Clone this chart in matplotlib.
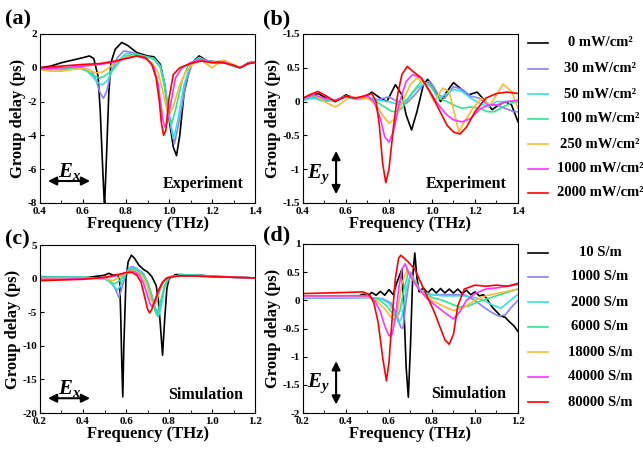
# -*- coding:utf-8 -*-
import matplotlib
matplotlib.use('Agg')
import matplotlib.pyplot as plt
from matplotlib.lines import Line2D

plt.rcParams['font.family'] = 'Liberation Serif'
plt.rcParams['font.weight'] = 'bold'
plt.rcParams['axes.unicode_minus'] = False
plt.rcParams['mathtext.fontset'] = 'custom'
plt.rcParams['mathtext.it'] = 'Liberation Serif:italic:bold'
plt.rcParams['mathtext.rm'] = 'Liberation Serif:bold'

colors = ['#000000', '#8a80ff', '#33e0e6', '#2ee68c', '#ffb833', '#ff33ff', '#ff0000']
power_labels = ['0 mW/cm²', '30 mW/cm²', '50 mW/cm²', '100 mW/cm²',
                '250 mW/cm²', '1000 mW/cm²', '2000 mW/cm²']
sigma_labels = ['10 S/m', '1000 S/m', '2000 S/m', '6000 S/m',
                '18000 S/m', '40000 S/m', '80000 S/m']

# (a) experiment, Ex polarisation
a_x0 = [0.40, 0.45, 0.50, 0.55, 0.60, 0.63, 0.65, 0.67, 0.68, 0.69, 0.70, 0.71, 0.72, 0.73, 0.75, 0.78, 0.81, 0.85,
        0.90, 0.93, 0.96, 0.98, 1.00, 1.02, 1.035, 1.05, 1.07, 1.10, 1.14, 1.18, 1.22, 1.26, 1.30, 1.33, 1.37, 1.40]
a_y0 = [0.0, 0.1, 0.3, 0.45, 0.6, 0.7, 0.55, -0.5, -2.5, -5.5, -8.3, -5.0, -1.5, 0.3, 1.1, 1.5, 1.3, 0.9,
        0.7, 0.65, 0.2, -1.0, -3.0, -4.7, -5.2, -4.0, -1.5, 0.2, 0.7, 0.4, 0.35, 0.4, 0.1, 0.0, 0.3, 0.35]
a_x1 = [0.40, 0.50, 0.60, 0.64, 0.66, 0.68, 0.695, 0.71, 0.73, 0.76, 0.79, 0.83, 0.88, 0.93, 0.96, 0.98, 1.00,
        1.025, 1.05, 1.08, 1.11, 1.14, 1.18, 1.22, 1.26, 1.30, 1.33, 1.37, 1.40]
a_y1 = [-0.1, -0.1, 0.0, -0.2, -0.7, -1.5, -1.8, -1.4, -0.3, 0.6, 1.0, 0.9, 0.7, 0.55, 0.1, -1.0, -2.8,
        -4.5, -3.0, -0.8, 0.3, 0.6, 0.4, 0.3, 0.3, 0.1, 0.0, 0.25, 0.35]
a_x2 = [0.40, 0.50, 0.58, 0.62, 0.65, 0.67, 0.69, 0.71, 0.74, 0.77, 0.80, 0.84, 0.88, 0.93, 0.96, 0.98, 1.00,
        1.02, 1.04, 1.07, 1.10, 1.14, 1.18, 1.22, 1.26, 1.30, 1.33, 1.37, 1.40]
a_y2 = [-0.05, -0.1, 0.0, -0.2, -0.6, -0.9, -1.0, -0.8, -0.1, 0.5, 0.85, 0.8, 0.7, 0.55, 0.1, -1.0, -2.8,
        -4.2, -3.2, -1.0, 0.2, 0.6, 0.4, 0.3, 0.3, 0.1, 0.0, 0.25, 0.35]
a_x3 = [0.40, 0.50, 0.58, 0.62, 0.65, 0.67, 0.68, 0.70, 0.74, 0.77, 0.80, 0.84, 0.88, 0.93, 0.96, 0.98, 1.00,
        1.012, 1.03, 1.06, 1.09, 1.14, 1.18, 1.22, 1.26, 1.30, 1.33, 1.37, 1.40]
a_y3 = [-0.05, -0.1, 0.0, -0.2, -0.45, -0.58, -0.6, -0.5, -0.1, 0.35, 0.7, 0.8, 0.7, 0.5, 0.0, -1.2, -2.8,
        -3.3, -2.5, -0.8, 0.2, 0.55, 0.4, 0.3, 0.3, 0.1, 0.0, 0.25, 0.35]
a_x4 = [0.40, 0.45, 0.50, 0.55, 0.60, 0.63, 0.66, 0.69, 0.72, 0.76, 0.80, 0.84, 0.88, 0.92, 0.95, 0.97, 0.99,
        1.00, 1.02, 1.05, 1.08, 1.12, 1.15, 1.20, 1.25, 1.30, 1.33, 1.37, 1.40]
a_y4 = [-0.1, -0.2, -0.2, -0.1, -0.05, -0.15, -0.3, -0.25, 0.0, 0.4, 0.6, 0.7, 0.6, 0.3, -0.3, -1.3, -2.5,
        -2.8, -2.3, -1.0, -0.2, 0.3, 0.45, 0.0, 0.45, 0.2, 0.0, 0.25, 0.35]
a_x5 = [0.40, 0.50, 0.60, 0.68, 0.75, 0.80, 0.85, 0.90, 0.93, 0.95, 0.96, 0.97, 0.98, 0.99, 1.01, 1.03, 1.06,
        1.10, 1.15, 1.20, 1.25, 1.30, 1.33, 1.37, 1.40]
a_y5 = [-0.05, 0.0, 0.1, 0.2, 0.35, 0.55, 0.7, 0.5, 0.0, -1.0, -2.0, -3.0, -3.5, -3.3, -2.0, -0.6, 0.0,
        0.3, 0.5, 0.3, 0.35, 0.15, 0.0, 0.25, 0.35]
a_x6 = [0.40, 0.50, 0.60, 0.68, 0.75, 0.80, 0.85, 0.89, 0.92, 0.94, 0.955, 0.965, 0.975, 0.985, 1.00, 1.02, 1.05,
        1.10, 1.15, 1.20, 1.25, 1.30, 1.33, 1.37, 1.40]
a_y6 = [0.0, 0.1, 0.2, 0.25, 0.4, 0.55, 0.7, 0.6, 0.2, -0.6, -2.0, -3.3, -4.0, -3.7, -1.8, -0.4, 0.0,
        0.25, 0.4, 0.3, 0.3, 0.15, 0.0, 0.25, 0.3]

# (b) experiment, Ey polarisation
b_x0 = [0.40, 0.43, 0.47, 0.51, 0.55, 0.60, 0.64, 0.68, 0.72, 0.76, 0.79, 0.83, 0.86, 0.88, 0.905, 0.93, 0.96,
        0.98, 1.01, 1.04, 1.07, 1.10, 1.13, 1.17, 1.21, 1.25, 1.28, 1.31, 1.34, 1.37, 1.40]
b_y0 = [0.05, 0.08, 0.12, 0.05, 0.0, 0.1, 0.05, 0.05, 0.14, 0.05, 0.0, 0.25, 0.1, -0.2, -0.42, -0.15, 0.25,
        0.33, 0.2, 0.0, 0.15, 0.28, 0.2, 0.1, 0.14, 0.0, -0.12, -0.05, 0.0, -0.05, -0.3]
b_x1 = [0.40, 0.45, 0.50, 0.55, 0.60, 0.65, 0.70, 0.75, 0.80, 0.84, 0.88, 0.92, 0.96, 0.99, 1.03, 1.06, 1.10,
        1.14, 1.18, 1.22, 1.26, 1.30, 1.34, 1.38, 1.40]
b_y1 = [0.03, 0.06, 0.02, 0.02, 0.07, 0.04, 0.06, 0.03, 0.07, 0.0, -0.03, 0.1, 0.25, 0.3, 0.1, 0.05, 0.22,
        0.18, 0.08, 0.05, -0.05, -0.05, -0.1, -0.15, -0.15]
b_x2 = [0.40, 0.45, 0.50, 0.55, 0.60, 0.65, 0.70, 0.75, 0.80, 0.85, 0.89, 0.93, 0.97, 1.00, 1.03, 1.06, 1.10,
        1.14, 1.18, 1.22, 1.26, 1.30, 1.35, 1.40]
b_y2 = [0.02, 0.05, 0.0, 0.02, 0.06, 0.03, 0.05, 0.02, 0.0, -0.05, 0.05, 0.2, 0.28, 0.2, 0.05, 0.1, 0.18,
        0.15, 0.05, -0.02, -0.08, 0.0, 0.0, 0.0]
b_x3 = [0.40, 0.45, 0.50, 0.55, 0.60, 0.65, 0.70, 0.74, 0.78, 0.81, 0.83, 0.86, 0.90, 0.95, 0.99, 1.03, 1.07,
        1.10, 1.14, 1.18, 1.22, 1.26, 1.29, 1.33, 1.37, 1.40]
b_y3 = [0.05, 0.08, 0.03, 0.02, 0.08, 0.05, 0.06, 0.0, -0.08, -0.14, -0.15, -0.1, 0.1, 0.3, 0.25, 0.05, 0.0,
        -0.05, -0.1, -0.08, -0.1, -0.15, -0.15, -0.08, -0.02, 0.0]
b_x4 = [0.40, 0.45, 0.50, 0.55, 0.58, 0.62, 0.66, 0.70, 0.74, 0.77, 0.80, 0.83, 0.87, 0.90, 0.93, 0.97, 1.01,
        1.05, 1.08, 1.11, 1.125, 1.15, 1.19, 1.23, 1.27, 1.30, 1.33, 1.37, 1.40]
b_y4 = [0.05, 0.1, 0.0, -0.08, -0.02, 0.08, 0.05, 0.05, -0.05, -0.2, -0.32, -0.25, 0.05, 0.25, 0.35, 0.25, 0.0,
        0.2, 0.15, -0.25, -0.45, -0.3, -0.1, 0.05, -0.05, 0.1, 0.26, 0.15, -0.1]
b_x5 = [0.40, 0.45, 0.50, 0.55, 0.60, 0.65, 0.70, 0.73, 0.76, 0.78, 0.80, 0.82, 0.85, 0.88, 0.91, 0.95, 0.99,
        1.03, 1.07, 1.10, 1.14, 1.18, 1.22, 1.26, 1.30, 1.35, 1.40]
b_y5 = [0.05, 0.1, 0.05, 0.02, 0.08, 0.05, 0.08, 0.0, -0.25, -0.52, -0.6, -0.45, 0.0, 0.3, 0.4, 0.35, 0.15,
        -0.05, -0.2, -0.27, -0.3, -0.25, -0.12, -0.05, -0.05, 0.0, 0.02]
b_x6 = [0.40, 0.43, 0.47, 0.51, 0.55, 0.60, 0.64, 0.68, 0.72, 0.74, 0.755, 0.77, 0.785, 0.80, 0.82, 0.84, 0.86,
        0.885, 0.91, 0.95, 0.99, 1.03, 1.07, 1.10, 1.13, 1.16, 1.20, 1.25, 1.30, 1.35, 1.40]
b_y6 = [0.05, 0.1, 0.15, 0.08, 0.0, 0.08, 0.05, 0.08, 0.12, 0.0, -0.35, -0.9, -1.2, -1.0, -0.4, 0.1, 0.4,
        0.52, 0.45, 0.35, 0.15, -0.1, -0.35, -0.45, -0.48, -0.38, -0.15, 0.05, 0.12, 0.14, 0.12]

# (c) simulation, Ex polarisation
c_x0 = [0.20, 0.30, 0.40, 0.45, 0.50, 0.52, 0.54, 0.56, 0.57, 0.575, 0.58, 0.585, 0.59, 0.60, 0.61, 0.625, 0.64,
        0.66, 0.68, 0.70, 0.72, 0.74, 0.75, 0.76, 0.77, 0.78, 0.79, 0.80, 0.83, 0.86, 0.90, 0.95, 1.00, 1.10, 1.20]
c_y0 = [0.3, 0.2, 0.1, 0.3, 0.5, 0.8, 0.5, 0.6, 0.0, -5.0, -12.0, -17.6, -10.0, 0.0, 2.5, 3.5, 3.0,
        2.0, 1.4, 1.0, 0.3, -1.0, -3.0, -7.0, -11.4, -6.0, -1.5, 0.0, 0.6, 0.6, 0.5, 0.5, 0.3, 0.2, 0.1]
c_x1 = [0.20, 0.30, 0.40, 0.45, 0.50, 0.53, 0.55, 0.567, 0.58, 0.60, 0.615, 0.63, 0.65, 0.68, 0.70, 0.72, 0.735,
        0.75, 0.765, 0.78, 0.80, 0.85, 0.90, 1.00, 1.10, 1.20]
c_y1 = [0.2, 0.2, 0.2, 0.1, 0.0, -0.5, -1.5, -2.8, -1.5, 0.8, 1.6, 1.8, 1.5, 0.8, -0.5, -2.5, -4.3,
        -5.0, -3.5, -1.0, 0.2, 0.5, 0.5, 0.4, 0.2, 0.1]
c_x2 = [0.20, 0.30, 0.40, 0.45, 0.50, 0.52, 0.54, 0.56, 0.575, 0.60, 0.615, 0.63, 0.65, 0.68, 0.70, 0.72, 0.735,
        0.75, 0.765, 0.78, 0.80, 0.85, 0.90, 1.00, 1.10, 1.20]
c_y2 = [0.2, 0.2, 0.2, 0.1, 0.0, -0.4, -1.0, -1.7, -1.0, 0.8, 1.5, 1.6, 1.4, 0.7, -0.5, -2.5, -4.5,
        -5.7, -4.0, -1.2, 0.2, 0.5, 0.5, 0.4, 0.2, 0.1]
c_x3 = [0.20, 0.30, 0.40, 0.45, 0.50, 0.52, 0.545, 0.57, 0.60, 0.615, 0.63, 0.65, 0.68, 0.70, 0.72, 0.735, 0.745,
        0.76, 0.78, 0.80, 0.85, 0.90, 1.00, 1.10, 1.20]
c_y3 = [0.2, 0.2, 0.2, 0.1, 0.0, -0.3, -0.8, -0.3, 0.8, 1.3, 1.4, 1.2, 0.6, -0.6, -2.8, -4.8, -5.5,
        -3.5, -1.0, 0.2, 0.5, 0.5, 0.4, 0.2, 0.1]
c_x4 = [0.20, 0.30, 0.40, 0.45, 0.50, 0.54, 0.57, 0.60, 0.62, 0.64, 0.66, 0.68, 0.70, 0.715, 0.73, 0.745, 0.76,
        0.78, 0.80, 0.85, 0.90, 1.00, 1.10, 1.20]
c_y4 = [0.0, 0.0, 0.0, 0.0, 0.0, -0.3, 0.2, 0.9, 1.2, 1.1, 0.8, 0.2, -1.2, -3.0, -4.0, -3.0, -1.5,
        -0.2, 0.3, 0.4, 0.4, 0.3, 0.2, 0.1]
c_x5 = [0.20, 0.30, 0.40, 0.50, 0.55, 0.60, 0.62, 0.64, 0.66, 0.68, 0.695, 0.71, 0.72, 0.735, 0.75, 0.77, 0.79,
        0.82, 0.85, 0.90, 1.00, 1.10, 1.20]
c_y5 = [-0.1, -0.1, 0.0, 0.1, 0.4, 0.9, 1.1, 1.0, 0.6, -0.5, -2.0, -3.6, -4.2, -3.5, -2.0, -0.6, 0.1,
        0.3, 0.4, 0.4, 0.3, 0.2, 0.1]
c_x6 = [0.20, 0.30, 0.40, 0.50, 0.55, 0.60, 0.63, 0.65, 0.67, 0.685, 0.70, 0.71, 0.72, 0.735, 0.75, 0.77, 0.79,
        0.82, 0.85, 0.90, 1.00, 1.10, 1.20]
c_y6 = [-0.3, -0.2, -0.1, 0.2, 0.5, 0.9, 0.9, 0.5, -0.5, -2.5, -4.5, -5.1, -4.6, -3.2, -1.8, -0.5, 0.1,
        0.3, 0.4, 0.4, 0.3, 0.2, 0.1]

# (d) simulation, Ey polarisation
d_x0 = [0.20, 0.30, 0.40, 0.46, 0.48, 0.50, 0.52, 0.54, 0.56, 0.58, 0.60, 0.62, 0.635, 0.65, 0.66, 0.67, 0.68,
        0.69, 0.70, 0.71, 0.72, 0.73, 0.74, 0.76, 0.78, 0.80, 0.82, 0.84, 0.86, 0.88, 0.90, 0.92, 0.94, 0.96,
        0.98, 1.00, 1.02, 1.04, 1.06, 1.08, 1.10, 1.12, 1.14, 1.16, 1.18, 1.20]
d_y0 = [0.07, 0.07, 0.07, 0.08, 0.11, 0.08, 0.14, 0.09, 0.16, 0.09, 0.19, 0.1, 0.3, 0.45, 0.55, -0.2, -1.2,
        -1.72, -0.8, 0.4, 0.84, 0.4, 0.15, 0.22, 0.13, 0.21, 0.13, 0.21, 0.13, 0.2, 0.13, 0.2, 0.12, 0.18,
        0.1, 0.15, 0.08, 0.1, 0.0, -0.12, -0.2, -0.28, -0.3, -0.38, -0.45, -0.55]
d_x1 = [0.20, 0.30, 0.40, 0.50, 0.57, 0.61, 0.64, 0.655, 0.665, 0.68, 0.70, 0.72, 0.75, 0.80, 0.85, 0.90, 0.95,
        1.00, 1.04, 1.08, 1.11, 1.14, 1.17, 1.20]
d_y1 = [0.04, 0.04, 0.04, 0.05, 0.03, -0.05, -0.3, -0.48, -0.5, 0.0, 0.5, 0.35, 0.15, 0.1, 0.1, 0.1, 0.1,
        0.0, -0.12, -0.22, -0.28, -0.26, -0.12, 0.0]
d_x2 = [0.20, 0.30, 0.40, 0.50, 0.56, 0.60, 0.63, 0.645, 0.66, 0.68, 0.70, 0.72, 0.75, 0.80, 0.85, 0.90, 0.95,
        1.00, 1.04, 1.08, 1.12, 1.15, 1.18, 1.20]
d_y2 = [0.05, 0.05, 0.05, 0.05, 0.03, -0.05, -0.25, -0.4, -0.3, 0.2, 0.45, 0.35, 0.15, 0.1, 0.08, 0.08, 0.08,
        0.05, 0.0, -0.08, -0.14, -0.05, 0.05, 0.1]
d_x3 = [0.20, 0.30, 0.40, 0.50, 0.55, 0.59, 0.62, 0.635, 0.65, 0.67, 0.69, 0.71, 0.74, 0.77, 0.80, 0.85, 0.90,
        0.93, 0.97, 1.00, 1.05, 1.10, 1.15, 1.20]
d_y3 = [0.06, 0.06, 0.06, 0.06, 0.02, -0.1, -0.25, -0.3, -0.2, 0.2, 0.5, 0.4, 0.2, 0.12, 0.05, 0.0, -0.08,
        -0.12, -0.1, -0.05, 0.02, 0.08, 0.14, 0.2]
d_x4 = [0.20, 0.30, 0.40, 0.50, 0.54, 0.58, 0.61, 0.625, 0.64, 0.66, 0.685, 0.70, 0.73, 0.76, 0.80, 0.85, 0.90,
        0.95, 1.00, 1.05, 1.10, 1.15, 1.20]
d_y4 = [0.06, 0.06, 0.06, 0.06, 0.0, -0.15, -0.3, -0.35, -0.2, 0.3, 0.55, 0.45, 0.25, 0.12, 0.0, -0.1, -0.18,
        -0.12, 0.0, 0.08, 0.12, 0.16, 0.2]
d_x5 = [0.20, 0.30, 0.40, 0.50, 0.53, 0.56, 0.58, 0.60, 0.615, 0.63, 0.645, 0.66, 0.675, 0.69, 0.72, 0.75, 0.78,
        0.82, 0.86, 0.90, 0.93, 0.96, 1.00, 1.05, 1.10, 1.15, 1.20]
d_y5 = [0.08, 0.08, 0.08, 0.08, 0.02, -0.2, -0.45, -0.63, -0.6, -0.3, 0.2, 0.55, 0.65, 0.5, 0.3, 0.15, 0.02,
        -0.1, -0.22, -0.33, -0.2, 0.0, 0.12, 0.2, 0.22, 0.25, 0.28]
d_x6 = [0.20, 0.30, 0.40, 0.48, 0.51, 0.53, 0.55, 0.57, 0.588, 0.60, 0.615, 0.63, 0.645, 0.655, 0.67, 0.69, 0.72,
        0.75, 0.78, 0.81, 0.84, 0.86, 0.88, 0.90, 0.92, 0.95, 1.00, 1.05, 1.10, 1.15, 1.20]
d_y6 = [0.12, 0.13, 0.14, 0.15, 0.1, -0.05, -0.4, -1.0, -1.43, -1.1, -0.3, 0.4, 0.75, 0.8, 0.75, 0.68, 0.55,
        0.3, 0.05, -0.2, -0.5, -0.7, -0.78, -0.6, -0.1, 0.2, 0.27, 0.25, 0.27, 0.25, 0.3]

panel_a = [(a_x0, a_y0), (a_x1, a_y1), (a_x2, a_y2), (a_x3, a_y3), (a_x4, a_y4), (a_x5, a_y5), (a_x6, a_y6)]
panel_b = [(b_x0, b_y0), (b_x1, b_y1), (b_x2, b_y2), (b_x3, b_y3), (b_x4, b_y4), (b_x5, b_y5), (b_x6, b_y6)]
panel_c = [(c_x0, c_y0), (c_x1, c_y1), (c_x2, c_y2), (c_x3, c_y3), (c_x4, c_y4), (c_x5, c_y5), (c_x6, c_y6)]
panel_d = [(d_x0, d_y0), (d_x1, d_y1), (d_x2, d_y2), (d_x3, d_y3), (d_x4, d_y4), (d_x5, d_y5), (d_x6, d_y6)]

fig = plt.figure(figsize=(6.43, 4.5), dpi=100)
ax_a = fig.add_axes([0.0622, 0.5489, 0.3344, 0.3756])
ax_b = fig.add_axes([0.4712, 0.5489, 0.3344, 0.3756])
ax_c = fig.add_axes([0.0622, 0.0822, 0.3344, 0.3733])
ax_d = fig.add_axes([0.4712, 0.0822, 0.3344, 0.3756])


def draw(ax, series, xlim, ylim, xticks, yticks, ylabels, tag):
    for (x, y), c in zip(series, colors):
        ax.plot(x, y, color=c, lw=1.2, solid_joinstyle='round')
    ax.set_xlim(xlim)
    ax.set_ylim(ylim)
    ax.set_xticks(xticks)
    ax.set_xticklabels(['%.1f' % t for t in xticks])
    ax.set_xticks([xticks[0] + 0.1 + 0.2 * i for i in range(len(xticks) - 1)], minor=True)
    ax.set_yticks(yticks)
    ax.set_yticklabels(ylabels)
    ax.tick_params(which='both', direction='in', labelsize=8, pad=2)
    ax.tick_params(axis='x', pad=3)
    ax.tick_params(which='major', length=3)
    ax.tick_params(which='minor', length=2)
    ax.set_xlabel('Frequency (THz)', fontsize=12, fontweight='bold', labelpad=0)
    ax.set_ylabel('Group delay (ps)', fontsize=12, fontweight='bold', labelpad=1)
    ax.text(0.945, 0.11, tag, transform=ax.transAxes, ha='right', va='center',
            fontsize=11.5, fontweight='bold')


draw(ax_a, panel_a, (0.4, 1.4), (-8, 2), [0.4, 0.6, 0.8, 1.0, 1.2, 1.4],
     [-8, -6, -4, -2, 0, 2], ['-8', '-6', '-4', '-2', '0', '2'], 'Experiment')
draw(ax_b, panel_b, (0.4, 1.4), (-1.5, 1.0), [0.4, 0.6, 0.8, 1.0, 1.2, 1.4],
     [-1.5, -1, -0.5, 0, 0.5, 1.0], ['-1.5', '-1', '-0.5', '0', '0.5', '-1.5'], 'Experiment')
draw(ax_c, panel_c, (0.2, 1.2), (-20, 5), [0.2, 0.4, 0.6, 0.8, 1.0, 1.2],
     [-20, -15, -10, -5, 0, 5], ['-20', '-15', '-10', '-5', '0', '5'], 'Simulation')
draw(ax_d, panel_d, (0.2, 1.2), (-2, 1), [0.2, 0.4, 0.6, 0.8, 1.0, 1.2],
     [-2, -1.5, -1, -0.5, 0, 0.5, 1], ['-2', '-1.5', '-1', '-0.5', '0', '0.5', '1'], 'Simulation')

# polarisation arrows
arrow = dict(arrowstyle='<|-|>,head_length=0.5,head_width=0.25', color='black', lw=1.5,
             shrinkA=0, shrinkB=0)
ax_a.annotate('', xy=(0.437, -6.7), xytext=(0.633, -6.7), arrowprops=arrow)
ax_a.text(0.535, -6.15, '$E_x$', ha='center', va='center', fontsize=15)
ax_c.annotate('', xy=(0.237, -17.8), xytext=(0.433, -17.8), arrowprops=arrow)
ax_c.text(0.335, -16.3, '$E_x$', ha='center', va='center', fontsize=15)
ax_b.annotate('', xy=(0.554, -0.73), xytext=(0.554, -1.37), arrowprops=arrow)
ax_b.text(0.47, -1.08, '$E_y$', ha='center', va='center', fontsize=15)
ax_d.annotate('', xy=(0.354, -1.08), xytext=(0.354, -1.85), arrowprops=arrow)
ax_d.text(0.27, -1.48, '$E_y$', ha='center', va='center', fontsize=15)

# panel tags
for lbl, px, py in [('(a)', 5, 19), ('(b)', 263, 19), ('(c)', 5, 239), ('(d)', 263, 235)]:
    fig.text(px / 643, 1 - py / 450, lbl, fontsize=16, fontweight='bold', va='center', ha='left')

# legends on the right
top_rows = [43, 69, 94, 119, 144, 169, 193]
bottom_rows = [253, 277, 302, 327, 352, 377, 402]
for labels, rows in [(power_labels, top_rows), (sigma_labels, bottom_rows)]:
    for lbl, c, py in zip(labels, colors, rows):
        yf = 1 - py / 450
        fig.add_artist(Line2D([528 / 643, 548 / 643], [yf, yf], color=c, lw=1.2))
        fig.text(600 / 643, yf, lbl, fontsize=10.5, fontweight='bold', ha='center', va='center')

plt.savefig('out.png', dpi=100)
